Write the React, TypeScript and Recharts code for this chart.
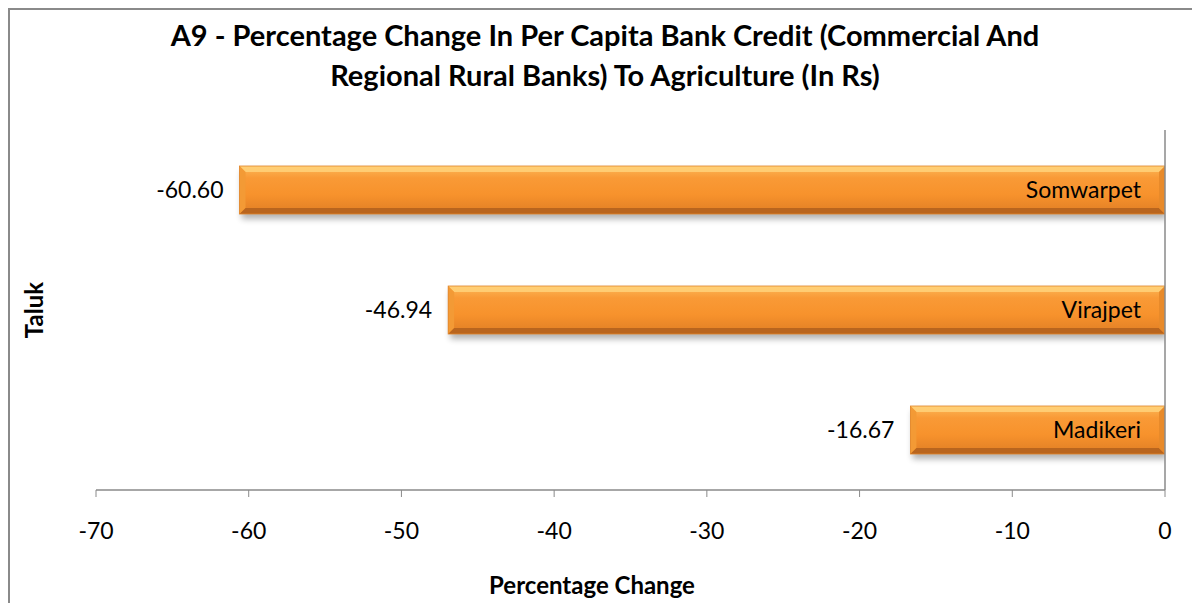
import React from "react";
import { BarChart, Bar, XAxis, YAxis, LabelList } from "recharts";

const categories = ["Madikeri", "Virajpet", "Somwarpet"];
const values = [-16.67, -46.94, -60.6];
const xTicks = [-70, -60, -50, -40, -30, -20, -10, 0];
const gridTicks = [0, 1, 2, 3];

const data = categories.map((name, i) => ({ name, value: values[i] }));

const FONT = "Lato, 'Open Sans', sans-serif";

const BevelBar = (props: any) => {
  const { x, y, width, height } = props;
  const left = Math.min(x, x + width);
  const w = Math.abs(width);
  const b = 6;
  const top = y;
  const h = height;
  return (
    <g>
      <rect x={left + 2} y={top + 5} width={w} height={h} fill="#000" opacity={0.3} filter="url(#barShadow)" />
      <rect x={left} y={top} width={w} height={h} fill="url(#barGrad)" />
      <polygon points={`${left},${top} ${left + w},${top} ${left + w - b},${top + b} ${left + b},${top + b}`} fill="#FFD27A" opacity={0.85} />
      <polygon points={`${left},${top} ${left + b},${top + b} ${left + b},${top + h - b} ${left},${top + h}`} fill="#F39A35" />
      <polygon points={`${left},${top + h} ${left + b},${top + h - b} ${left + w - b},${top + h - b} ${left + w},${top + h}`} fill="#B9651E" />
      <polygon points={`${left + w},${top} ${left + w},${top + h} ${left + w - b},${top + h - b} ${left + w - b},${top + b}`} fill="#E88A2A" />
      <rect x={left} y={top} width={w} height={h} fill="none" stroke="#E0852A" strokeWidth={0.8} />
    </g>
  );
};

export default function App() {
  return (
    <div
      style={{
        position: "relative",
        width: 1192,
        height: 595,
        borderLeft: "2px solid #8a8a8a",
        borderTop: "2px solid #8a8a8a",
        boxSizing: "border-box",
        fontFamily: FONT,
        overflow: "hidden",
        background: "#fff",
      }}
    >
      <div
        style={{
          position: "absolute",
          left: 0,
          top: 5,
          width: 1190,
          textAlign: "center",
          fontWeight: 700,
          fontSize: 29,
          lineHeight: "40px",
          color: "#000",
          whiteSpace: "nowrap",
        }}
      >
        A9 - Percentage Change In Per Capita Bank Credit (Commercial And
        <br />
        Regional Rural Banks) To Agriculture (In Rs)
      </div>
      <div
        style={{
          position: "absolute",
          left: 23,
          top: 300,
          transform: "translate(-50%, -50%) rotate(-90deg)",
          fontWeight: 700,
          fontSize: 24,
          color: "#000",
        }}
      >
        Taluk
      </div>
      <div
        style={{
          position: "absolute",
          left: 582,
          top: 574,
          transform: "translate(-50%, -50%)",
          fontWeight: 700,
          fontSize: 24,
          color: "#000",
          whiteSpace: "nowrap",
        }}
      >
        Percentage Change
      </div>
      <BarChart
        width={1190}
        height={593}
        data={data}
        layout="vertical"
        margin={{ top: 120, right: 35, bottom: 53, left: 86 }}
        barCategoryGap="30%"
      >
        <defs>
          <linearGradient id="barGrad" x1="0" y1="0" x2="0" y2="1">
            <stop offset="0%" stopColor="#FCB857" />
            <stop offset="25%" stopColor="#F99A36" />
            <stop offset="60%" stopColor="#F7922C" />
            <stop offset="100%" stopColor="#E07E25" />
          </linearGradient>
          <filter id="barShadow" x="-10%" y="-50%" width="120%" height="200%">
            <feGaussianBlur stdDeviation="3" />
          </filter>
        </defs>
        <XAxis
          type="number"
          domain={[-70, 0]}
          ticks={xTicks}
          allowDataOverflow
          height={60}
          tickSize={7}
          tickMargin={26}
          stroke="#8a8a8a"
          tick={{ fill: "#000", fontSize: 23, fontFamily: FONT }}
          tickLine={{ stroke: "#8a8a8a" }}
          axisLine={{ stroke: "#8a8a8a", strokeWidth: 1.5 }}
        />
        <YAxis yAxisId="cat" type="category" dataKey="name" reversed hide />
        <YAxis
          yAxisId="grid"
          type="number"
          domain={[0, 3]}
          ticks={gridTicks}
          allowDataOverflow
          orientation="right"
          mirror
          tick={false}
          tickSize={8}
          tickLine={{ stroke: "#8a8a8a" }}
          axisLine={{ stroke: "#8a8a8a", strokeWidth: 1.5 }}
        />
        <Bar yAxisId="cat" dataKey="value" isAnimationActive={false} shape={<BevelBar />}>
          <LabelList
            dataKey="value"
            position="right"
            offset={16}
            formatter={(v: any) => Number(v).toFixed(2)}
            style={{ fill: "#000", fontSize: 23, fontFamily: FONT }}
          />
          <LabelList
            dataKey="name"
            position="insideLeft"
            offset={24}
            style={{ fill: "#000", fontSize: 23, fontFamily: FONT }}
          />
        </Bar>
      </BarChart>
    </div>
  );
}
